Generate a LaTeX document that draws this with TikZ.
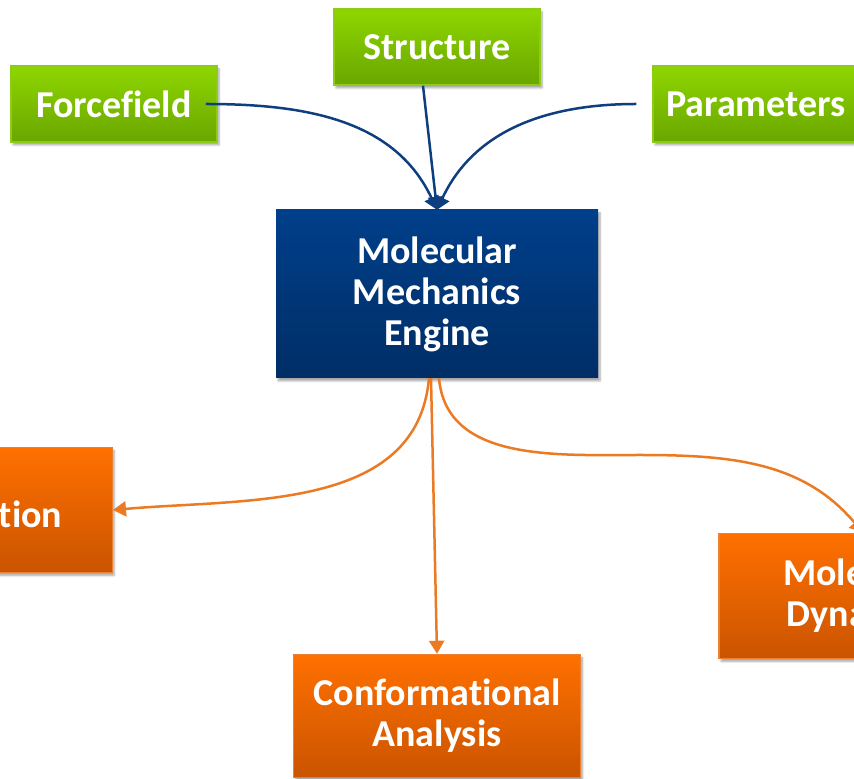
\documentclass[tikz,border=0pt]{standalone}
\usepackage{xcolor}
\usepackage{fontspec}
\setmainfont{Carlito}[Ligatures={NoCommon}]
\usepackage{tikz}
\usetikzlibrary{arrows.meta,shadows.blur}

\begin{document}
\begin{tikzpicture}[x=1pt,y=1pt]
	\tikzstyle{every node}=[font=\fontsize{38}{41}\selectfont\bfseries, text=white, align=center]
	\tikzstyle{shade box}=[blur shadow={shadow xshift=2pt, shadow yshift=-3pt, shadow blur steps=6, shadow opacity=35}]
	\tikzstyle{greenbox}=[shade box, draw={rgb,255:red,140; green,204; blue,20}, line width=1.5pt, top color={rgb,255:red,142; green,214; blue,0}, bottom color={rgb,255:red,106; green,166; blue,0}, minimum width=206pt, minimum height=76pt]
	\tikzstyle{bluebox}=[shade box, top color={rgb,255:red,0; green,63; blue,138}, bottom color={rgb,255:red,0; green,46; blue,102}, minimum width=322pt, minimum height=168pt]
	\tikzstyle{orangebox}=[shade box, draw={rgb,255:red,236; green,128; blue,50}, line width=1.5pt, top color={rgb,255:red,255; green,112; blue,0}, bottom color={rgb,255:red,202; green,84; blue,0}, minimum height=125pt]
	\tikzstyle{bluearrow}=[color={rgb,255:red,14; green,62; blue,126}, line width=2.5pt, -{Triangle[width=15pt,length=13pt]}]
	\tikzstyle{orangearrow}=[color={rgb,255:red,236; green,122; blue,35}, line width=2.5pt, -{Triangle[width=15pt,length=13pt]}]
	\useasboundingbox (0,0) rectangle (854,779);
	\clip (0,0) rectangle (854,779);
	% inputs
	\node [greenbox] (forcefield) at (114,675) {Forcefield};
	\node [greenbox] (structure) at (437,732) {Structure};
	\node [greenbox] (parameters) at (756,675) {Parameters};
	% engine
	\node [bluebox] (engine) at (437,485) {Molecular\\Mechanics\\Engine};
	% applications
	\node [orangebox, anchor=east, inner xsep=50pt, text height=35pt] (minimization) at (113,269) {Minimization};
	\node [orangebox, minimum width=287pt, minimum height=123pt] (conformational) at (437,63) {Conformational\\Analysis};
	\node [orangebox, minimum width=288pt] (dynamics) at (863,183) {Molecular\\Dynamics};
	\coordinate (dynbend) at (640,324);
	% connectors
	\draw [bluearrow] ([xshift=-12pt]forcefield.east) to[out=0, in=115] (engine.north);
	\draw [bluearrow] ([xshift=-14pt]structure.south) -- (engine.north);
	\draw [bluearrow] ([xshift=-16pt]parameters.west) to[out=180, in=65] (engine.north);
	\draw [orangearrow] ([xshift=-8pt]engine.south) to[out=-95, in=5] (minimization.east);
	\draw [orangearrow] ([xshift=-6pt]engine.south) -- (conformational.north);
	\draw [orangearrow] ([xshift=2pt]engine.south) to[out=-85, in=180] (dynbend) to[out=0, in=130] (dynamics.north);
\end{tikzpicture}
\end{document}
